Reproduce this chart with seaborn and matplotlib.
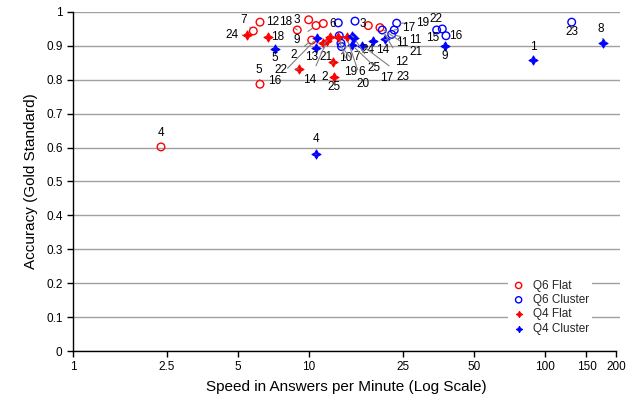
import numpy as np
import pandas as pd
import matplotlib
matplotlib.use("Agg")
import matplotlib.pyplot as plt
import seaborn as sns
from matplotlib.ticker import FixedLocator, FixedFormatter, NullLocator

# ---------------- data ----------------
q6_flat_x = [2.36, 5.81, 6.20, 9.97, 8.92, 10.71, 11.50, 10.27, 6.20, 17.84, 19.99]
q6_flat_y = [0.602, 0.944, 0.970, 0.977, 0.947, 0.960, 0.966, 0.917, 0.787, 0.960, 0.954]
q6_flat_labels = ["4", "7", "12", "3", "18", "9", "6", "2", "5", "", "21"]

q6_cluster_x = [13.31, 15.67, 23.53, 22.98, 22.41, 20.45, 34.76, 36.72, 38.07, 13.44, 13.66, 13.74, 129.8]
q6_cluster_y = [0.968, 0.973, 0.967, 0.947, 0.934, 0.947, 0.947, 0.950, 0.930, 0.930, 0.908, 0.898, 0.970]
q6_cluster_labels = ["", "3", "19", "17", "11", "12", "15", "22", "16", "10", "7", "6", "23"]

q4_flat_x = [5.48, 6.68, 12.27, 11.50, 11.89, 9.04, 12.68, 12.80, 13.31, 14.44]
q4_flat_y = [0.932, 0.927, 0.925, 0.908, 0.914, 0.832, 0.852, 0.809, 0.925, 0.925]
q4_flat_labels = ["24", "18", "13", "21", "14", "22", "2", "25", "19", "20"]

q4_cluster_x = [7.18, 10.78, 10.71, 15.17, 15.51, 15.17, 16.82, 18.73, 20.99, 88.97, 176.6, 10.71, 37.70]
q4_cluster_y = [0.891, 0.922, 0.895, 0.930, 0.924, 0.903, 0.901, 0.914, 0.919, 0.858, 0.908, 0.580, 0.901]
q4_cluster_labels = ["5", "16", "", "24", "25", "17", "23", "14", "11", "1", "8", "4", "9"]

series_names = ["Q6 Flat", "Q6 Cluster", "Q4 Flat", "Q4 Cluster"]
x_ticks = [1, 2.5, 5, 10, 25, 50, 100, 150, 200]
x_tick_labels = ["1", "2.5", "5", "10", "25", "50", "100", "150", "200"]
y_ticks = [0, 0.1, 0.2, 0.3, 0.4, 0.5, 0.6, 0.7, 0.8, 0.9, 1.0]
y_tick_labels = ["0", "0.1", "0.2", "0.3", "0.4", "0.5", "0.6", "0.7", "0.8", "0.9", "1"]

# ---------------- label placement (pixel offsets, style only) ----------------
q6_flat_off = [(0, 14), (-10, 11), (13, 0), (-12, 0), (-12, 8), (-19, -14), (9, 0),
               (-18, -15), (-1, 14), (0, 0), (36, -24)]
q6_cluster_off = [(0, 0), (8, -3), (26, 0), (14, 2), (24, -6), (19, -32), (-4, -8),
                  (-6, 10), (10, 0), (6, -22), (16, -14), (20, -25), (0, -10)]
q4_flat_off = [(-15, 0), (10, 0), (-18, -20), (3, -14), (-17, -39), (-18, -1), (-9, -15),
               (0, -10), (12, -35), (16, -47)]
q4_cluster_off = [(0, -9), (-42, -43), (0, 0), (16, -14), (20, -30), (35, -33), (41, -31),
                  (9, -9), (17, -4), (0, 13), (-2, 14), (0, 15), (0, -10)]

frames = []
for name, xs, ys, labs in [
    ("Q6 Flat", q6_flat_x, q6_flat_y, q6_flat_labels),
    ("Q6 Cluster", q6_cluster_x, q6_cluster_y, q6_cluster_labels),
    ("Q4 Flat", q4_flat_x, q4_flat_y, q4_flat_labels),
    ("Q4 Cluster", q4_cluster_x, q4_cluster_y, q4_cluster_labels),
]:
    frames.append(pd.DataFrame({"speed": xs, "acc": ys, "label": labs, "series": name}))
df = pd.concat(frames, ignore_index=True)
offsets = {"Q6 Flat": q6_flat_off, "Q6 Cluster": q6_cluster_off,
           "Q4 Flat": q4_flat_off, "Q4 Cluster": q4_cluster_off}

# ---------------- style ----------------
sns.set_theme(style="white")
plt.rcParams["font.family"] = ["Liberation Sans", "DejaVu Sans"]

fig = plt.figure(figsize=(6.36, 4.0), dpi=100)
ax = fig.add_axes([73 / 636, 1 - 351 / 400, (620 - 73) / 636, (351 - 12) / 400])

star = (4, 1, 0)
styles = {
    "Q6 Flat": dict(marker="o", facecolors="none", edgecolor="#ff0000", linewidth=1.0, s=30),
    "Q6 Cluster": dict(marker="o", facecolors="none", edgecolor="#0000ff", linewidth=1.0, s=30),
    "Q4 Flat": dict(marker=star, color="#ff0000", edgecolor="#ff0000", linewidth=0.8, s=42),
    "Q4 Cluster": dict(marker=star, color="#0000ff", edgecolor="#0000ff", linewidth=0.8, s=42),
}

for name in series_names:
    sub = df[df["series"] == name]
    sns.scatterplot(data=sub, x="speed", y="acc", ax=ax, label=name, zorder=3, **styles[name])
for coll, name in zip(ax.collections, series_names):
    if name.startswith("Q6"):
        coll.set_facecolor("none")

# labels with leader lines
for name in series_names:
    sub = df[df["series"] == name].reset_index(drop=True)
    for i, row in sub.iterrows():
        if not row["label"]:
            continue
        dx, dy = offsets[name][i]
        dist = np.hypot(dx, dy)
        arrow = None
        if dist > 14:
            arrow = dict(arrowstyle="-", color="#808080", lw=0.8, shrinkA=4, shrinkB=3)
        ax.annotate(row["label"], (row["speed"], row["acc"]), xytext=(dx, dy),
                    textcoords="offset pixels", ha="center", va="center",
                    fontsize=8.5, color="black", arrowprops=arrow, zorder=4)

ax.set_xscale("log")
ax.set_xlim(1, 208)
ax.set_ylim(0, 1)
ax.xaxis.set_major_locator(FixedLocator(x_ticks))
ax.xaxis.set_major_formatter(FixedFormatter(x_tick_labels))
ax.xaxis.set_minor_locator(NullLocator())
ax.yaxis.set_major_locator(FixedLocator(y_ticks))
ax.yaxis.set_major_formatter(FixedFormatter(y_tick_labels))

ax.yaxis.grid(True, color="#a0a0a0", lw=1.0)
ax.xaxis.grid(False)
ax.set_axisbelow(True)

for side in ["top", "right"]:
    ax.spines[side].set_visible(False)
for side in ["left", "bottom"]:
    ax.spines[side].set_color("black")
    ax.spines[side].set_linewidth(1.0)
ax.spines["bottom"].set_bounds(1, 200)

ax.tick_params(axis="both", which="major", direction="out", length=4, width=1,
               color="black", labelsize=8.5, labelcolor="black", left=True, bottom=True)

ax.set_xlabel("Speed in Answers per Minute (Log Scale)", fontsize=11, color="black", labelpad=5)
ax.set_ylabel("Accuracy (Gold Standard)", fontsize=11, color="black", labelpad=6)

leg = ax.legend(loc="upper left", bbox_to_anchor=((508 - 73) / 547, (351 - 276) / 339),
                frameon=True, facecolor="white", edgecolor="none", framealpha=1,
                fontsize=8.5, handletextpad=0.6, labelspacing=0.2, handlelength=1.2,
                borderpad=0.3, borderaxespad=0)
for h in leg.legend_handles:
    h.set_sizes([20])

fig.savefig("out.png", dpi=100)
